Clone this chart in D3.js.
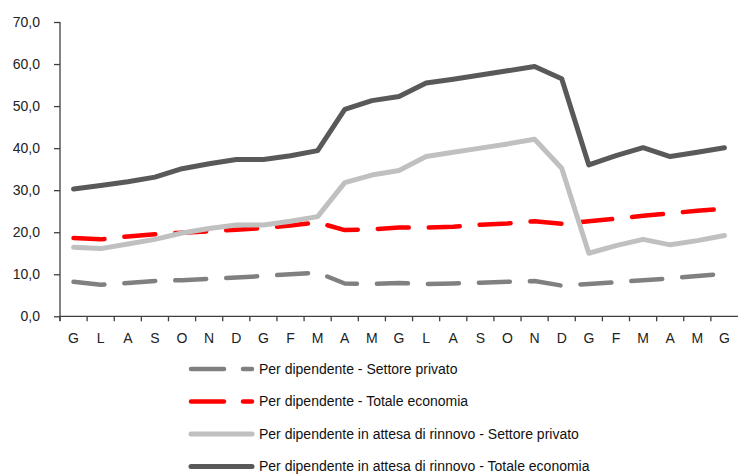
<!DOCTYPE html>
<html>
<head>
<meta charset="utf-8">
<script src="https://cdn.jsdelivr.net/npm/d3@7"></script>
<style>
  html, body { margin: 0; padding: 0; background: #fff; }
  svg { display: block; font-family: "Liberation Sans", Arial, sans-serif; }
</style>
</head>
<body>
<svg id="chart" width="738" height="475"></svg>
<script>
const categories = ["G","L","A","S","O","N","D","G","F","M","A","M","G","L","A","S","O","N","D","G","F","M","A","M","G"];
const seriesNames = [
  "Per dipendente - Settore privato",
  "Per dipendente - Totale economia",
  "Per dipendente in attesa di rinnovo - Settore privato",
  "Per dipendente in attesa di rinnovo - Totale economia"
];
const privato = [8.2,7.5,7.9,8.4,8.6,8.9,9.2,9.6,10.0,10.4,7.8,7.7,7.9,7.7,7.8,8.0,8.2,8.4,7.3,7.7,8.1,8.6,9.0,9.6,10.1];
const totale = [18.6,18.3,19.0,19.5,19.9,20.2,20.6,21.0,21.6,22.3,20.5,20.7,21.1,21.1,21.3,21.8,22.1,22.6,22.0,22.6,23.2,23.9,24.5,25.1,25.6];
const attesaPrivato = [16.4,16.1,17.2,18.3,19.8,20.9,21.7,21.7,22.6,23.7,31.8,33.6,34.7,38.0,39.0,40.0,41.0,42.1,35.2,15.0,16.8,18.3,17.0,18.0,19.2];
const attesaTotale = [30.3,31.1,32.0,33.1,35.1,36.3,37.3,37.3,38.2,39.4,49.2,51.3,52.3,55.5,56.4,57.4,58.4,59.4,56.5,36.0,38.2,40.1,38.0,39.0,40.1];
const yTicks = [0,10,20,30,40,50,60,70];

const series = [
  {name: seriesNames[0], values: privato, color: "#808080", width: 4.5, dash: "31,20"},
  {name: seriesNames[1], values: totale, color: "#ff0000", width: 4.5, dash: "31,20"},
  {name: seriesNames[2], values: attesaPrivato, color: "#c0c0c0", width: 5, dash: null},
  {name: seriesNames[3], values: attesaTotale, color: "#595959", width: 5, dash: null}
];

const svg = d3.select("#chart");
const x = d3.scaleBand().domain(d3.range(categories.length)).range([60, 738]).paddingInner(0).paddingOuter(0);
const y = d3.scaleLinear().domain([0, 70]).range([316.3, 22]);
const axisColor = "#404040";
const fmt = d => d3.format(".1f")(d).replace(".", ",");

// Y axis
const yAxis = svg.append("g").attr("transform", "translate(60,0)")
  .call(d3.axisLeft(y).tickValues(yTicks).tickFormat(fmt).tickSize(6).tickPadding(14));
yAxis.select(".domain").attr("stroke", axisColor).attr("stroke-width", 1.3).attr("d", `M0,${y(70)}V321`);
yAxis.selectAll(".tick line").attr("stroke", axisColor).attr("stroke-width", 1.3);
yAxis.selectAll(".tick text").attr("font-size", 14).attr("fill", "#222")
  .attr("font-family", "'Liberation Sans', Arial, sans-serif");

// X axis
const xAxis = svg.append("g").attr("transform", `translate(0,${y(0)})`)
  .call(d3.axisBottom(x).tickFormat(i => categories[i]).tickSize(0).tickPadding(17));
xAxis.select(".domain").attr("stroke", axisColor).attr("stroke-width", 1.3).attr("d", "M60,0H738");
xAxis.selectAll(".tick text").attr("font-size", 14).attr("fill", "#222")
  .attr("font-family", "'Liberation Sans', Arial, sans-serif");
// tick marks at band boundaries
xAxis.selectAll(".bound").data(d3.range(categories.length)).enter().append("line")
  .attr("x1", i => x(i)).attr("x2", i => x(i)).attr("y1", 0).attr("y2", 5)
  .attr("stroke", axisColor).attr("stroke-width", 1.3);

// Lines
const line = d3.line().x((d, i) => x(i) + x.bandwidth() / 2).y(d => y(d));
series.forEach(s => {
  svg.append("path").datum(s.values)
    .attr("d", line).attr("fill", "none")
    .attr("stroke", s.color).attr("stroke-width", s.width)
    .attr("stroke-linejoin", "round").attr("stroke-linecap", "round")
    .attr("stroke-dasharray", s.dash);
});

// Legend
const legend = svg.append("g");
series.forEach((s, i) => {
  const cy = 369 + i * 32.5;
  const g = legend.append("g");
  if (s.dash) {
    g.append("line").attr("x1", 191).attr("x2", 224).attr("y1", cy).attr("y2", cy)
      .attr("stroke", s.color).attr("stroke-width", s.width).attr("stroke-linecap", "round");
    g.append("line").attr("x1", 243).attr("x2", 252).attr("y1", cy).attr("y2", cy)
      .attr("stroke", s.color).attr("stroke-width", s.width).attr("stroke-linecap", "round");
  } else {
    g.append("line").attr("x1", 191).attr("x2", 252).attr("y1", cy).attr("y2", cy)
      .attr("stroke", s.color).attr("stroke-width", s.width).attr("stroke-linecap", "round");
  }
  g.append("text").attr("x", 259).attr("y", cy).attr("dy", "0.35em")
    .attr("font-size", 14).attr("fill", "#111").text(s.name);
});
</script>
</body>
</html>
